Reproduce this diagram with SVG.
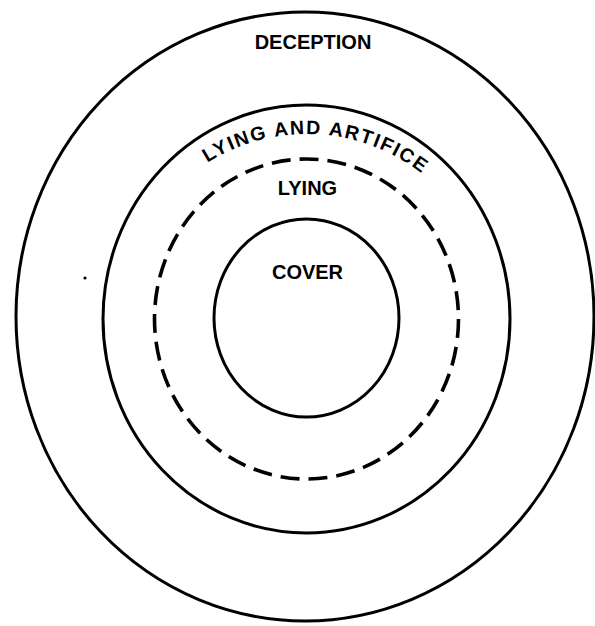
<svg xmlns="http://www.w3.org/2000/svg" width="595" height="626" viewBox="0 0 595 626">
  <style>
    .ring { fill: none; stroke: #000; stroke-width: 3; }
    .dash { fill: none; stroke: #000; stroke-width: 3.6; stroke-dasharray: 19 9; }
    .lbl { font-family: "Liberation Sans", Arial, sans-serif; font-weight: bold; fill: #000; }
  </style>
  <defs>
    <path id="arcPath" d="M 207.3 162.8 A 187 187 0 0 1 423.4 174.7"/>
  </defs>
  <rect width="595" height="626" fill="#fff"/>
  <g id="deception">
    <ellipse class="ring" cx="305" cy="316.5" rx="289" ry="304.5"/>
    <text class="lbl" x="313" y="49" font-size="20" text-anchor="middle">DECEPTION</text>
  </g>
  <g id="lying-and-artifice">
    <ellipse class="ring" cx="306.5" cy="319" rx="203.5" ry="214"/>
    <text class="lbl" font-size="19.5"><textPath href="#arcPath" textLength="228" lengthAdjust="spacing">LYING AND ARTIFICE</textPath></text>
  </g>
  <g id="lying">
    <ellipse class="dash" cx="306.5" cy="319" rx="152" ry="160"/>
    <text class="lbl" x="307.5" y="195" font-size="20" text-anchor="middle">LYING</text>
  </g>
  <g id="cover">
    <ellipse class="ring" cx="306.5" cy="318" rx="92.5" ry="99"/>
    <text class="lbl" x="307.5" y="279" font-size="20" text-anchor="middle">COVER</text>
  </g>
  <g id="connectors"/>
  <circle cx="85" cy="278" r="1.6" fill="#000"/>
</svg>
